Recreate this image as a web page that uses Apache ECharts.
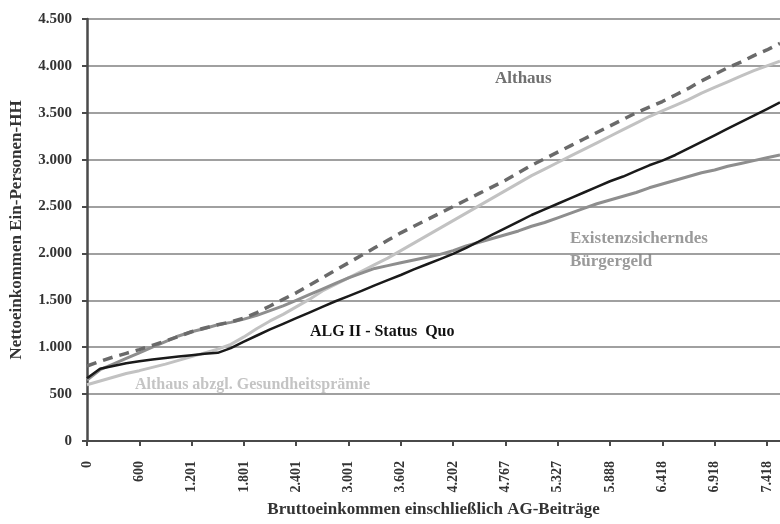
<!DOCTYPE html>
<html>
<head>
<meta charset="utf-8">
<script src="https://cdn.jsdelivr.net/npm/echarts@6/dist/echarts.min.js"></script>
<style>html,body{margin:0;padding:0;background:#fff;}#c{width:780px;height:524px;}</style>
</head>
<body>
<div id="c"></div>
<script>
// Tick labels of the gross income axis (Euro per month)
var xTickLabels = ['0','600','1.201','1.801','2.401','3.001','3.602','4.202','4.767','5.327','5.888','6.418','6.918','7.418'];
var subSteps = 4; // data points per labelled interval
var yTicks = [0, 500, 1000, 1500, 2000, 2500, 3000, 3500, 4000, 4500];

// Net income series
var statusQuo = [670,770,800,830,850,870,885,900,915,930,940,990,1060,1125,1190,1250,1310,1370,1430,1490,1545,1600,1660,1715,1770,1830,1885,1940,1995,2060,2130,2200,2270,2340,2410,2470,2530,2590,2650,2710,2770,2820,2880,2940,2990,3050,3120,3190,3260,3330,3400,3470,3540,3610];
var althaus = [800,850,895,935,975,1020,1065,1115,1165,1205,1240,1270,1310,1370,1440,1510,1580,1660,1740,1820,1900,1980,2060,2140,2220,2290,2360,2430,2500,2570,2640,2710,2780,2860,2940,3010,3080,3150,3220,3290,3360,3430,3500,3560,3620,3690,3760,3840,3910,3980,4040,4110,4170,4240];
var althausAbzgl = [600,640,680,720,750,785,820,860,900,940,980,1030,1110,1200,1280,1350,1430,1510,1600,1670,1740,1810,1880,1950,2030,2110,2190,2270,2350,2430,2510,2590,2670,2750,2830,2900,2970,3040,3110,3180,3250,3320,3390,3460,3520,3580,3640,3710,3770,3830,3890,3950,4000,4050];
var buergergeld = [650,760,820,880,940,1000,1060,1120,1165,1200,1240,1265,1300,1340,1390,1440,1500,1560,1620,1680,1740,1790,1840,1870,1900,1930,1960,1990,2030,2080,2120,2160,2200,2240,2290,2330,2380,2430,2480,2530,2570,2610,2650,2700,2740,2780,2820,2860,2890,2930,2960,2990,3020,3050];

var categories = [];
for (var i = 0; i < xTickLabels.length; i++) {
  categories.push(xTickLabels[i]);
  if (i < xTickLabels.length - 1) {
    for (var s = 1; s < subSteps; s++) categories.push('');
  }
}
categories.push('');

var FONT = 'Liberation Serif';
var chart = echarts.init(document.getElementById('c'), null, {renderer: 'canvas'});
chart.setOption({
  animation: false,
  backgroundColor: '#ffffff',
  grid: {left: 85, top: 19, bottom: 83, right: -6, containLabel: false},
  xAxis: {
    type: 'category',
    data: categories,
    boundaryGap: false,
    name: 'Bruttoeinkommen einschließlich AG-Beiträge',
    nameLocation: 'middle',
    nameGap: 60,
    nameTextStyle: {fontFamily: FONT, fontWeight: 'bold', fontSize: 17, color: '#333'},
    axisLine: {lineStyle: {color: '#4a4a4a', width: 2}},
    axisTick: {interval: subSteps - 1, length: 5, lineStyle: {color: '#4a4a4a', width: 2}},
    axisLabel: {interval: subSteps - 1, rotate: 90, margin: 20, fontFamily: FONT, fontWeight: 'bold', fontSize: 14, color: '#333'},
    splitLine: {show: false}
  },
  yAxis: {
    type: 'value',
    min: yTicks[0],
    max: yTicks[yTicks.length - 1],
    interval: yTicks[1] - yTicks[0],
    name: 'Nettoeinkommen Ein-Personen-HH',
    nameLocation: 'middle',
    nameGap: 62,
    nameTextStyle: {fontFamily: FONT, fontWeight: 'bold', fontSize: 17, color: '#333'},
    axisLine: {show: true, lineStyle: {color: '#4a4a4a', width: 2.5}},
    axisTick: {show: true, length: 5, lineStyle: {color: '#4a4a4a', width: 2}},
    axisLabel: {margin: 15, fontFamily: FONT, fontWeight: 'bold', fontSize: 15, color: '#333',
      formatter: function (v) { return v.toLocaleString('de-DE'); }},
    splitLine: {show: true, lineStyle: {color: '#808080', width: 1.5}}
  },
  series: [
    {name: 'Althaus abzgl. Gesundheitsprämie', type: 'line', data: althausAbzgl, showSymbol: false,
      lineStyle: {color: '#c2c2c2', width: 3}},
    {name: 'Existenzsicherndes Bürgergeld', type: 'line', data: buergergeld, showSymbol: false,
      lineStyle: {color: '#8e8e8e', width: 3}},
    {name: 'ALG II - Status Quo', type: 'line', data: statusQuo, showSymbol: false,
      lineStyle: {color: '#1a1a1a', width: 2.5}},
    {name: 'Althaus', type: 'line', data: althaus, showSymbol: false,
      lineStyle: {color: '#6a6a6a', width: 3.5, type: [10, 7]}}
  ],
  graphic: [
    {type: 'text', left: 495, top: 70, style: {text: 'Althaus', font: 'bold 17px "Liberation Serif"', fill: '#707070'}},
    {type: 'text', left: 570, top: 230, style: {text: 'Existenzsicherndes', font: 'bold 17px "Liberation Serif"', fill: '#9a9a9a'}},
    {type: 'text', left: 570, top: 253, style: {text: 'Bürgergeld', font: 'bold 17px "Liberation Serif"', fill: '#9a9a9a'}},
    {type: 'text', left: 310, top: 324, style: {text: 'ALG II - Status  Quo', font: 'bold 16px "Liberation Serif"', fill: '#111111'}},
    {type: 'text', left: 135, top: 377, style: {text: 'Althaus abzgl. Gesundheitsprämie', font: 'bold 16px "Liberation Serif"', fill: '#c4c4c4'}}
  ]
});
</script>
</body>
</html>
